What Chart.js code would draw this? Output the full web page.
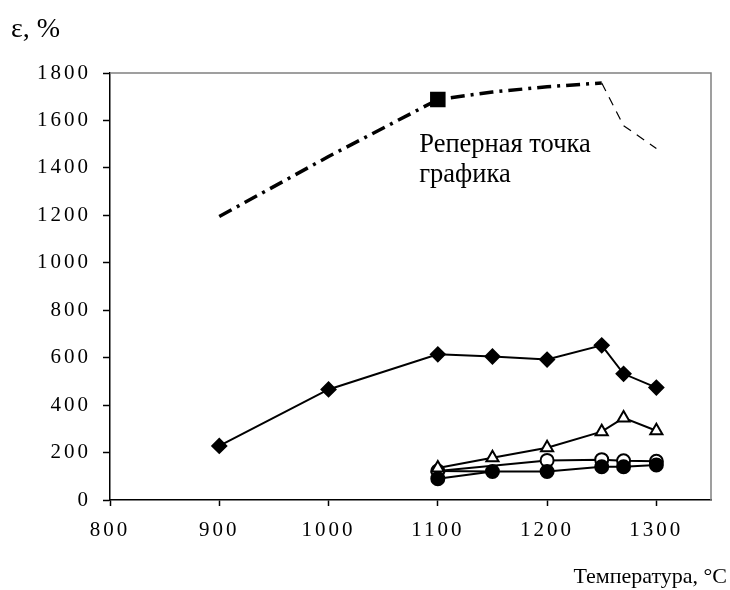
<!DOCTYPE html>
<html>
<head>
<meta charset="utf-8">
<script src="https://cdn.jsdelivr.net/npm/chart.js@4.4.1/dist/chart.umd.min.js"></script>
<style>
  html, body { margin: 0; padding: 0; background: #fff; }
  #wrap { width: 730px; height: 590px; position: relative; }
</style>
</head>
<body>
<div id="wrap"><canvas id="chart"></canvas></div>
<script>
// axis ticks
const xTickValues = [800, 900, 1000, 1100, 1200, 1300];
const yTickValues = [0, 200, 400, 600, 800, 1000, 1200, 1400, 1600, 1800];

// reference curve (dash-dot)
const refTemps = [900, 1000, 1100, 1150, 1200, 1250, 1270, 1300];
const refValues = [1195, 1448, 1688, 1720, 1742, 1758, 1578, 1482];

// diamonds
const diamondTemps = [900, 1000, 1100, 1150, 1200, 1250, 1270, 1300];
const diamondValues = [228, 466, 614, 605, 592, 652, 532, 474];

// triangles
const triangleTemps = [1100, 1150, 1200, 1250, 1270, 1300];
const triangleValues = [135, 178, 220, 288, 346, 292];

// open circles
const openTemps = [1100, 1200, 1250, 1270, 1300];
const openValues = [122, 167, 170, 165, 163];

// filled circles
const filledTemps = [1100, 1150, 1200, 1250, 1270, 1300];
const filledValues = [90, 120, 120, 140, 140, 148];

// short connector without markers
const linkTemps = [1100, 1150];
const linkValues = [122, 120];

const toPoints = (xs, ys) => xs.map((x, i) => ({ x: x, y: ys[i] }));

const SERIF = "'Liberation Serif', 'Times New Roman', serif";

const framePlugin = {
  id: "frame",
  beforeDraw(chart) {
    chart.ctx.letterSpacing = "3px";
  },
  beforeDatasetsDraw(chart) {
    chart.ctx.letterSpacing = "0px";
  },
  afterDraw(chart) {
    const { ctx, chartArea: a, scales } = chart;
    ctx.save();
    ctx.letterSpacing = "0px";
    // top and right frame (grey)
    ctx.strokeStyle = "#808080";
    ctx.lineWidth = 1.5;
    ctx.beginPath();
    ctx.moveTo(a.left, a.top);
    ctx.lineTo(a.right, a.top);
    ctx.lineTo(a.right, a.bottom);
    ctx.stroke();

    ctx.fillStyle = "#000";
    ctx.textBaseline = "alphabetic";
    ctx.font = "28px " + SERIF;
    ctx.textAlign = "left";
    ctx.fillText("ε, %", 11, 37);
    ctx.font = "22px " + SERIF;
    ctx.textAlign = "right";
    ctx.fillText("Температура, °С", 727, 583);

    // annotation
    ctx.font = "26.5px " + SERIF;
    ctx.textAlign = "left";
    const tx = scales.x.getPixelForValue(1083);
    const ty = scales.y.getPixelForValue(1467);
    ctx.fillText("Реперная точка", tx, ty);
    ctx.fillText("графика", tx, ty + 30);
    ctx.restore();
  }
};

const ctx = document.getElementById("chart").getContext("2d");

new Chart(ctx, {
  type: "line",
  data: {
    datasets: [
      {
        label: "triangles",
        data: toPoints(triangleTemps, triangleValues),
        borderColor: "#000",
        borderWidth: 2,
        pointStyle: "triangle",
        pointRadius: 7,
        pointBorderWidth: 2,
        pointBackgroundColor: "#fff",
        pointBorderColor: "#000",
      },
      {
        label: "filled",
        data: toPoints(filledTemps, filledValues),
        borderColor: "#000",
        borderWidth: 2,
        pointStyle: "circle",
        pointRadius: 6.5,
        pointBackgroundColor: "#000",
        pointBorderColor: "#000",
      },
      {
        label: "open",
        data: toPoints(openTemps, openValues),
        borderColor: "#000",
        borderWidth: 2,
        pointStyle: "circle",
        pointRadius: 6.5,
        pointBorderWidth: 2,
        pointBackgroundColor: "#fff",
        pointBorderColor: "#000",
      },
      {
        label: "link",
        data: toPoints(linkTemps, linkValues),
        borderColor: "#000",
        borderWidth: 2,
        pointRadius: 0,
      },
      {
        label: "diamonds",
        data: toPoints(diamondTemps, diamondValues),
        borderColor: "#000",
        borderWidth: 2,
        pointStyle: "rectRot",
        pointRadius: 7,
        pointBackgroundColor: "#000",
        pointBorderColor: "#000",
      },
      {
        label: "reference",
        data: toPoints(refTemps, refValues),
        borderColor: "#000",
        borderWidth: 3.5,
        borderDash: [14, 6, 3, 6],
        pointStyle: "rect",
        pointRadius: refTemps.map(t => (t === 1100 ? 8.5 : 0)),
        pointBackgroundColor: "#000",
        pointBorderColor: "#000",
        segment: {
          borderWidth: c => (c.p0DataIndex >= 5 ? 1.2 : 3.5),
          borderDash: c => (c.p0DataIndex >= 5 ? [9, 7] : [14, 6, 3, 6]),
        },
      },
    ],
  },
  options: {
    responsive: true,
    maintainAspectRatio: false,
    animation: false,
    layout: { padding: { left: 0, top: 73, right: 19, bottom: 0 } },
    plugins: {
      legend: { display: false },
      tooltip: { enabled: false },
    },
    scales: {
      x: {
        type: "linear",
        min: 800,
        max: 1350,
        afterBuildTicks: s => { s.ticks = xTickValues.map(v => ({ value: v })); },
        afterFit: s => { s.height = 90; },
        grid: {
          drawOnChartArea: false,
          drawTicks: true,
          tickLength: 6,
          tickColor: "#000",
          tickWidth: 1.5,
        },
        border: { display: true, color: "#000", width: 1.5 },
        ticks: {
          color: "#000",
          padding: 12,
          maxRotation: 0,
          callback: v => String(v),
          font: { family: SERIF, size: 21 },
        },
      },
      y: {
        min: 0,
        max: 1800,
        afterBuildTicks: s => { s.ticks = yTickValues.map(v => ({ value: v })); },
        afterFit: s => { s.width = 110; },
        grid: {
          drawOnChartArea: false,
          drawTicks: true,
          tickLength: 7,
          tickColor: "#000",
          tickWidth: 1.5,
        },
        border: { display: true, color: "#000", width: 1.5 },
        ticks: {
          color: "#000",
          padding: 12,
          callback: v => String(v),
          font: { family: SERIF, size: 21 },
        },
      },
    },
  },
  plugins: [framePlugin],
});
</script>
</body>
</html>
